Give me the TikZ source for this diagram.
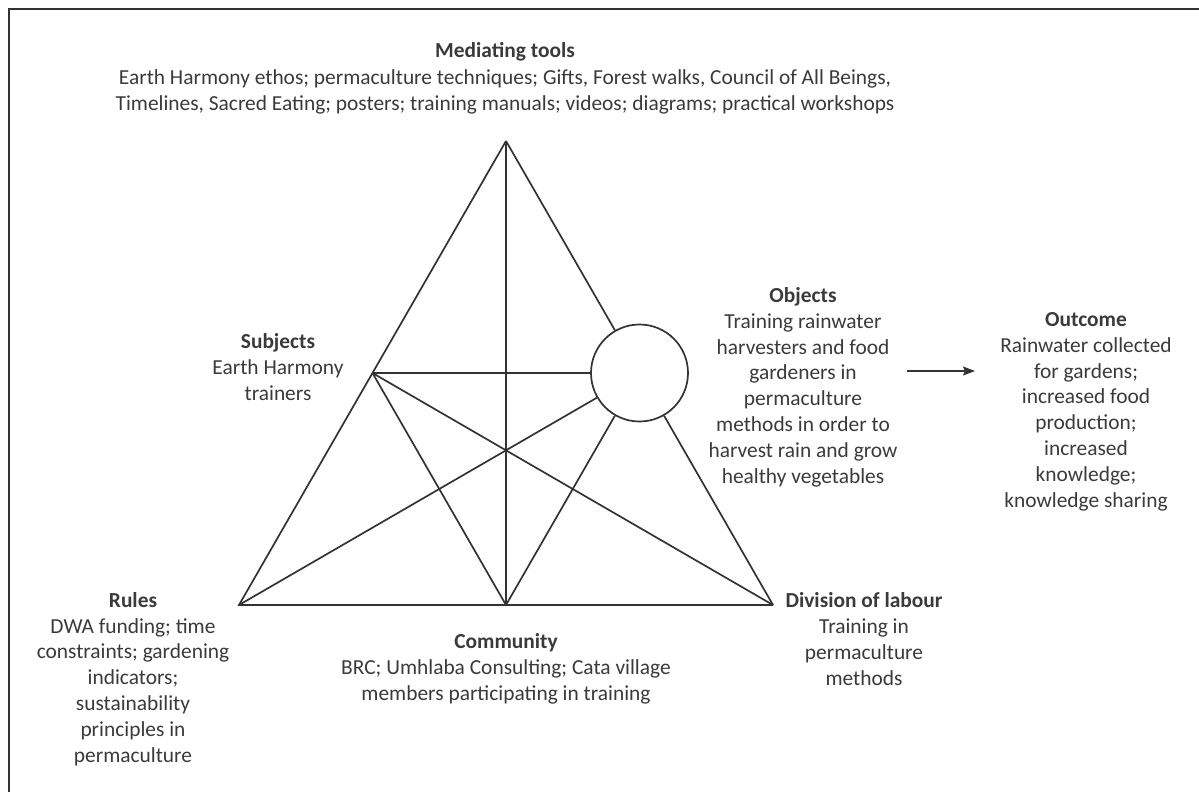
\documentclass[tikz,border=0pt]{standalone}
\usepackage{fontspec}
\setmainfont{Carlito}
\usetikzlibrary{arrows.meta}
\definecolor{ink}{HTML}{333333}
\definecolor{txt}{HTML}{3A3A3A}
\begin{document}
\begin{tikzpicture}[x=1pt,y=-1pt,
  edge/.style={draw=ink,line width=1.7pt},
  label/.style={text=txt,align=center,inner sep=0pt,anchor=base,
    font=\fontsize{21.4}{25.8}\selectfont},
  frame/.style={draw=ink,line width=2.8pt}]
  \useasboundingbox (0,0) rectangle (1199,792);
  \clip (0,0) rectangle (1199,792);
  % outer frame
  \draw[frame] (9,9) rectangle (1260,860);

  % triangle corners and side points
  \coordinate (A) at (506,141);
  \coordinate (L) at (239,605);
  \coordinate (R) at (773,605);
  \coordinate (M) at (506,605);
  \coordinate (S) at (372.5,373);
  \node[circle,draw=ink,line width=1.7pt,minimum size=97pt,inner sep=0pt] (O) at (639.5,373) {};

  % outline of the triangle
  \draw[edge] (A) -- (L) -- (R);
  \draw[edge] (R) -- (O);
  \draw[edge] (O) -- (A);
  % inner connections
  \draw[edge] (A) -- (M);
  \draw[edge] (S) -- (O);
  \draw[edge] (S) -- (M);
  \draw[edge] (S) -- (R);
  \draw[edge] (L) -- (O);
  \draw[edge] (M) -- (O);

  % arrow towards the outcome
  \coordinate (arrS) at (907,371);
  \coordinate (arrE) at (975,371);
  \draw[draw=ink,line width=1.5pt,-{Stealth[length=12pt,width=9pt,inset=2pt]}] (arrS) -- (arrE);

  % labels (placed by the baseline of their last line)
  \node[label] (tools) at (505,110) {\textbf{Mediating tools}\\[1pt]
    Earth Harmony ethos; permaculture techniques; Gifts, Forest walks, Council of All Beings,\\
    Timelines, Sacred Eating; posters; training manuals; videos; diagrams; practical workshops};
  \node[label] (subjects) at (278,400) {\textbf{Subjects}\\Earth Harmony\\trainers};
  \node[label] (objects) at (803,483) {\textbf{Objects}\\Training rainwater\\harvesters and food\\gardeners in\\permaculture\\methods in order to\\harvest rain and grow\\healthy vegetables};
  \node[label] (outcome) at (1086,507) {\textbf{Outcome}\\Rainwater collected\\for gardens;\\increased food\\production;\\increased\\knowledge;\\knowledge sharing};
  \node[label] (rules) at (133,762) {\textbf{Rules}\\DWA funding; time\\constraints; gardening\\indicators;\\sustainability\\principles in\\permaculture};
  \node[label] (community) at (506,700) {\textbf{Community}\\BRC; Umhlaba Consulting; Cata village\\members participating in training};
  \node[label] (division) at (864,685) {\textbf{Division of labour}\\Training in\\permaculture\\methods};
\end{tikzpicture}
\end{document}
